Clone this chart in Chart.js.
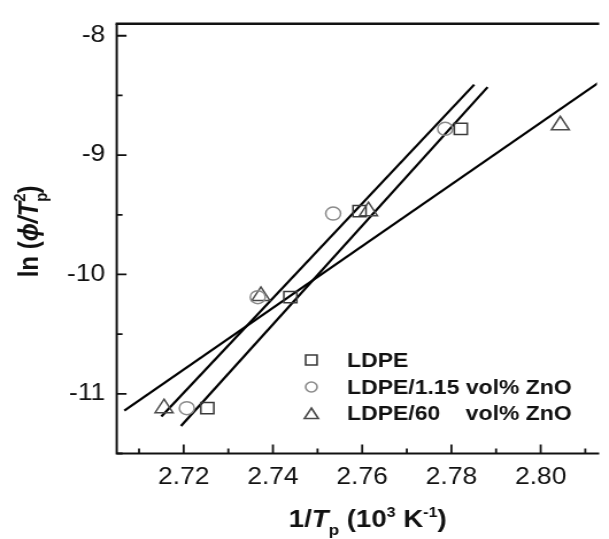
<!DOCTYPE html>
<html>
<head>
<meta charset="utf-8">
<script src="https://cdn.jsdelivr.net/npm/chart.js@4.4.1/dist/chart.umd.min.js"></script>
<style>
  html, body { margin: 0; padding: 0; background: #fff; overflow: hidden; }
  /* the original figure is a little wider than tall in its lettering, so stretch the whole canvas */
  #wrap { width: 530px; height: 539px; transform: scaleX(1.149); transform-origin: 0 0; }
</style>
</head>
<body>
<div id="wrap"><canvas id="chart" width="530" height="539"></canvas></div>
<script>
const ldpeX = [2.7253, 2.7439, 2.7594, 2.7821];
const ldpeY = [-11.12, -10.19, -9.47, -8.78];
const zno115X = [2.7207, 2.7366, 2.7535, 2.7786];
const zno115Y = [-11.12, -10.19, -9.49, -8.78];
const zno60X = [2.7156, 2.7373, 2.7614, 2.8044];
const zno60Y = [-11.12, -10.18, -9.47, -8.75];

// fitted straight lines, end points
const fitLdpeX = [2.7194, 2.7881];
const fitLdpeY = [-11.27, -8.43];
const fitZno115X = [2.7150, 2.7851];
const fitZno115Y = [-11.19, -8.41];
const fitZno60X = [2.7067, 2.8150];
const fitZno60Y = [-11.14, -8.34];

const xTicks = [2.72, 2.74, 2.76, 2.78, 2.80];
const xMinorTicks = [2.71, 2.73, 2.75, 2.77, 2.79, 2.81];
const yTicks = [-8, -9, -10, -11];
const yMinorTicks = [-8.5, -9.5, -10.5, -11.5];
const legendLabels = ['LDPE', 'LDPE/1.15 vol% ZnO', 'LDPE/60    vol% ZnO'];

const FONT = '"Liberation Sans", Arial, "DejaVu Sans", sans-serif';

const pts = (xs, ys) => xs.map((x, i) => ({ x: x, y: ys[i] }));

const markers = [
    { style: 'rect', color: '#3a3a3a', radius: 8, legendRadius: 7 },
    { style: 'circle', color: '#8a8a8a', radius: 6.5, legendRadius: 5 },
    { style: 'triangle', color: '#4a4a4a', radius: 9, legendRadius: 7 },
];

const pointSet = (data, m) => ({
    type: 'scatter',
    data: data,
    pointStyle: m.style,
    pointRadius: m.radius,
    pointBorderWidth: 1.5,
    pointBorderColor: m.color,
    pointBackgroundColor: 'rgba(0,0,0,0)',
    showLine: false,
});

const fitSet = data => ({
    type: 'line',
    data: data,
    borderColor: '#000',
    borderWidth: 2.2,
    pointRadius: 0,
    showLine: true,
    fill: false,
});

// draws a run of text pieces (sub/superscripts) one after another
const drawRich = (ctx, parts, x, y, align) => {
    let total = 0;
    parts.forEach(p => {
        ctx.font = p.font;
        p.w = ctx.measureText(p.t).width;
        if (!p.stack) total += p.w;
    });
    let cx = align === 'center' ? x - total / 2 : x;
    let last = 0;
    parts.forEach(p => {
        ctx.font = p.font;
        if (p.stack) cx -= last;
        ctx.fillText(p.t, cx, y + (p.dy || 0));
        last = p.w;
        cx += p.w;
    });
};

const B = s => 'bold ' + s + 'px ' + FONT;
const BI = s => 'italic bold ' + s + 'px ' + FONT;

const figurePlugin = {
    id: 'figure',
    afterDraw(chart) {
        const { ctx, chartArea: a, scales: { x, y } } = chart;
        ctx.save();
        ctx.strokeStyle = '#111';
        ctx.fillStyle = '#111';

        // frame: top, left, bottom (right side is cut off in the figure)
        ctx.lineWidth = 2.5;
        ctx.beginPath();
        ctx.moveTo(a.left - 1, a.top);
        ctx.lineTo(a.right + 2, a.top);
        ctx.stroke();
        ctx.lineWidth = 2;
        ctx.beginPath();
        ctx.moveTo(a.left, a.top);
        ctx.lineTo(a.left, a.bottom);
        ctx.lineTo(a.right + 2, a.bottom);
        ctx.stroke();

        // inward ticks
        ctx.lineWidth = 1.8;
        ctx.beginPath();
        xTicks.forEach(v => { const px = x.getPixelForValue(v); ctx.moveTo(px, a.bottom); ctx.lineTo(px, a.bottom - 9); });
        xMinorTicks.forEach(v => { const px = x.getPixelForValue(v); ctx.moveTo(px, a.bottom); ctx.lineTo(px, a.bottom - 5); });
        yTicks.forEach(v => { const py = y.getPixelForValue(v); ctx.moveTo(a.left, py); ctx.lineTo(a.left + 8.5, py); });
        yMinorTicks.forEach(v => { const py = y.getPixelForValue(v); ctx.moveTo(a.left, py); ctx.lineTo(a.left + 5, py); });
        ctx.stroke();

        // legend inside the plot
        const lx = 271, tx = 302;
        const ly = [360, 387, 413];
        legendLabels.forEach((label, i) => {
            const m = markers[i];
            ctx.strokeStyle = m.color;
            ctx.fillStyle = 'rgba(0,0,0,0)';
            ctx.lineWidth = 1.6;
            Chart.helpers.drawPoint(ctx, { pointStyle: m.style, radius: m.legendRadius, borderWidth: 1.6, rotation: 0 }, lx, ly[i] + (m.style === 'triangle' ? 2 : 0));
            ctx.fillStyle = '#111';
            ctx.font = B(20);
            ctx.textAlign = 'left';
            ctx.textBaseline = 'middle';
            ctx.fillText(label, tx, ly[i] + 1);
        });

        // axis titles
        ctx.fillStyle = '#111';
        ctx.textBaseline = 'alphabetic';
        ctx.textAlign = 'left';
        drawRich(ctx, [
            { t: '1/', font: B(24) },
            { t: 'T', font: BI(24) },
            { t: 'p', font: B(15), dy: 8 },
            { t: ' (10', font: B(24) },
            { t: '3', font: B(14), dy: -10 },
            { t: ' K', font: B(24) },
            { t: '-1', font: B(14), dy: -10 },
            { t: ')', font: B(24) },
        ], 320, 527, 'center');

        ctx.translate(24.5, 231);
        ctx.rotate(-Math.PI / 2);
        drawRich(ctx, [
            { t: 'ln (', font: B(24) },
            { t: '\u03D5/T', font: BI(24) },
            { t: 'p', font: B(15), dy: 8 },
            { t: '2', font: B(15), dy: -11, stack: true },
            { t: ')', font: B(24) },
        ], 0, 8.5, 'center');

        ctx.restore();
    },
};

new Chart(document.getElementById('chart'), {
    type: 'scatter',
    data: {
        datasets: [
            pointSet(pts(ldpeX, ldpeY), markers[0]),
            pointSet(pts(zno115X, zno115Y), markers[1]),
            pointSet(pts(zno60X, zno60Y), markers[2]),
            fitSet(pts(fitLdpeX, fitLdpeY)),
            fitSet(pts(fitZno115X, fitZno115Y)),
            fitSet(pts(fitZno60X, fitZno60Y)),
        ],
    },
    options: {
        responsive: false,
        animation: false,
        devicePixelRatio: 1,
        layout: { padding: { top: 13.3, right: 0, bottom: 0, left: 0 } },
        plugins: {
            legend: { display: false },
            tooltip: { enabled: false },
        },
        scales: {
            x: {
                type: 'linear',
                min: 2.705,
                max: 2.8126,
                grid: { display: false, drawTicks: false },
                border: { display: false },
                afterBuildTicks: s => { s.ticks = xTicks.map(v => ({ value: v })); },
                afterFit: s => { s.height = 85.5; },
                ticks: {
                    callback: v => v.toFixed(2),
                    font: { family: FONT, size: 23 },
                    color: '#111',
                    padding: 10,
                    maxRotation: 0,
                    autoSkip: false,
                },
            },
            y: {
                type: 'linear',
                min: -11.5,
                max: -7.9,
                grid: { display: false, drawTicks: false },
                border: { display: false },
                afterBuildTicks: s => { s.ticks = yTicks.map(v => ({ value: v })); },
                afterFit: s => { s.width = 101.6; },
                ticks: {
                    callback: v => String(v),
                    font: { family: FONT, size: 23 },
                    color: '#111',
                    padding: 10,
                },
            },
        },
    },
    plugins: [figurePlugin],
});
</script>
</body>
</html>
